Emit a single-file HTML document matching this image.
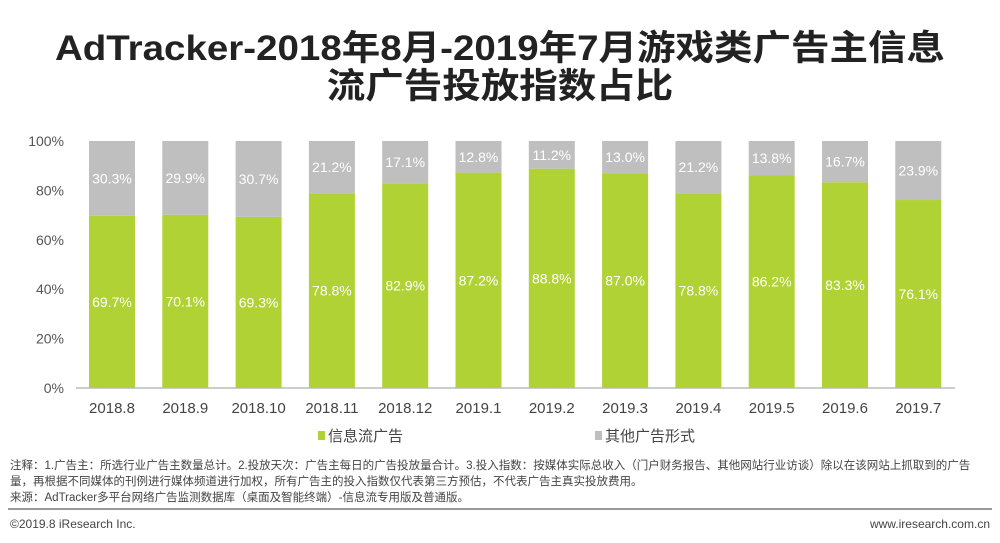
<!DOCTYPE html>
<html><head><meta charset="utf-8"><style>
body{margin:0;width:1000px;height:543px;background:#fff;font-family:"Liberation Sans","Noto Sans CJK SC",sans-serif;overflow:hidden;position:relative}
.t{position:absolute;left:0;width:1000px;text-align:center;font-weight:bold;font-size:35px;color:#222;transform:scaleX(1.1);transform-origin:500px 0}
.n{position:absolute;left:10px;font-size:11.5px;color:#444;line-height:16px}
</style></head><body>
<div class="t" style="top:20px">AdTracker-2018年8月-2019年7月游戏类广告主信息</div>
<div class="t" style="top:58px">流广告投放指数占比</div>
<svg id="c" width="1000" height="460" style="position:absolute;left:0;top:0"></svg>
<div class="n" style="top:458px;width:975px">注释：1.广告主：所选行业广告主数量总计。2.投放天次：广告主每日的广告投放量合计。3.投入指数：按媒体实际总收入（门户财务报告、其他网站行业访谈）除以在该网站上抓取到的广告量，再根据不同媒体的刊例进行媒体频道进行加权，所有广告主的投入指数仅代表第三方预估，不代表广告主真实投放费用。<br>来源：AdTracker多平台网络广告监测数据库（桌面及智能终端）-信息流专用版及普通版。</div>
<div style="position:absolute;left:8px;top:508px;width:984px;height:2px;background:#999"></div>
<div class="n" style="top:516px;font-size:12px">©2019.8 iResearch Inc.</div>
<div class="n" style="top:516px;left:auto;right:10px;font-size:12px">www.iresearch.com.cn</div>
<script>
const categories=["2018.8","2018.9","2018.10","2018.11","2018.12","2019.1","2019.2","2019.3","2019.4","2019.5","2019.6","2019.7"];
const feedValues=[69.7,70.1,69.3,78.8,82.9,87.2,88.8,87.0,78.8,86.2,83.3,76.1];
const otherValues=[30.3,29.9,30.7,21.2,17.1,12.8,11.2,13.0,21.2,13.8,16.7,23.9];
const yTicks=[0,20,40,60,80,100];
const svg=document.getElementById('c');const NS='http://www.w3.org/2000/svg';
const y0=388,y1=141,x0=112,step=73.3,bw=46;
const y=v=>y0-(y0-y1)*v/100,x=i=>x0+i*step;
function mk(t,a,txt){const e=document.createElementNS(NS,t);for(const k in a)e.setAttribute(k,a[k]);if(txt!=null)e.textContent=txt;svg.appendChild(e);return e;}
yTicks.forEach(v=>{const e=mk('text',{x:64,y:y(v)+5,'text-anchor':'end','font-size':14,fill:'#555'},v+'%');

});
const ax=mk('line',{x1:76,x2:955,y1:y0,y2:y0,stroke:'#999','stroke-width':1});


categories.forEach((c,i)=>{const cx=x(i);
const g=mk('rect',{x:cx-bw/2,y:y(feedValues[i]),width:bw,height:y0-y(feedValues[i]),fill:'#b1d235'});


const top=feedValues[i]+otherValues[i];
const o=mk('rect',{x:cx-bw/2,y:y(top),width:bw,height:y(feedValues[i])-y(top),fill:'#bfbfbf'});


const l1=mk('text',{x:cx,y:(y(feedValues[i])+y0)/2+5,'text-anchor':'middle','font-size':14,fill:'#fff'},feedValues[i].toFixed(1)+'%');


const l2=mk('text',{x:cx,y:(y(top)+y(feedValues[i]))/2+5,'text-anchor':'middle','font-size':14,fill:'#fff'},otherValues[i].toFixed(1)+'%');


const xl=mk('text',{x:cx,y:413,'text-anchor':'middle','font-size':15,fill:'#444'},c);

});
const leg=[[318,'#b1d235','信息流广告'],[595,'#bfbfbf','其他广告形式']];
leg.forEach(([lx,col,t])=>{const r=mk('rect',{x:lx,y:431,width:7,height:9,fill:col});


const tx=mk('text',{x:lx+10,y:441,'font-size':15,fill:'#444'},t);

});
</script>
</body></html>
